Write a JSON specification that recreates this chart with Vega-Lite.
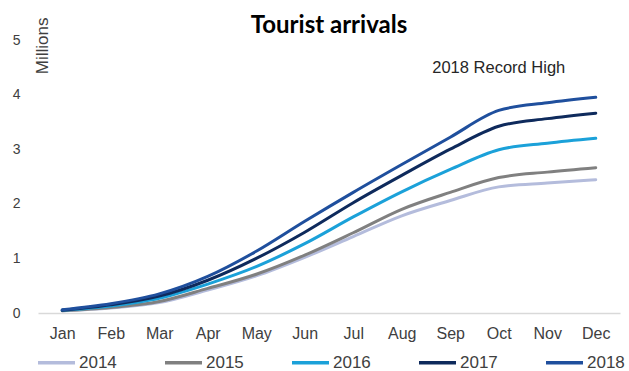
{
  "$schema": "https://vega.github.io/schema/vega-lite/v6.json",
  "width": 582,
  "height": 273,
  "autosize": {"type": "none"},
  "padding": {"left": 38, "top": 40, "right": 9, "bottom": 58},
  "background": "white",
  "config": {"view": {"stroke": null}, "font": "Liberation Sans"},
  "title": {"text": "Tourist arrivals", "font": "Lato", "fontSize": 24, "fontWeight": "bold", "color": "#000000", "anchor": "middle", "frame": "group", "baseline": "alphabetic", "offset": 5, "dy": 45},
  "datasets": {
    "arrivals": [
      {"month": "Jan", "year": "2014", "value": 0.04}, {"month": "Feb", "year": "2014", "value": 0.09}, {"month": "Mar", "year": "2014", "value": 0.19}, {"month": "Apr", "year": "2014", "value": 0.42}, {"month": "May", "year": "2014", "value": 0.68}, {"month": "Jun", "year": "2014", "value": 1.02}, {"month": "Jul", "year": "2014", "value": 1.4}, {"month": "Aug", "year": "2014", "value": 1.78}, {"month": "Sep", "year": "2014", "value": 2.06}, {"month": "Oct", "year": "2014", "value": 2.31}, {"month": "Nov", "year": "2014", "value": 2.38}, {"month": "Dec", "year": "2014", "value": 2.44},
      {"month": "Jan", "year": "2015", "value": 0.04}, {"month": "Feb", "year": "2015", "value": 0.1}, {"month": "Mar", "year": "2015", "value": 0.21}, {"month": "Apr", "year": "2015", "value": 0.45}, {"month": "May", "year": "2015", "value": 0.71}, {"month": "Jun", "year": "2015", "value": 1.06}, {"month": "Jul", "year": "2015", "value": 1.47}, {"month": "Aug", "year": "2015", "value": 1.9}, {"month": "Sep", "year": "2015", "value": 2.21}, {"month": "Oct", "year": "2015", "value": 2.48}, {"month": "Nov", "year": "2015", "value": 2.58}, {"month": "Dec", "year": "2015", "value": 2.66},
      {"month": "Jan", "year": "2016", "value": 0.05}, {"month": "Feb", "year": "2016", "value": 0.13}, {"month": "Mar", "year": "2016", "value": 0.27}, {"month": "Apr", "year": "2016", "value": 0.53}, {"month": "May", "year": "2016", "value": 0.85}, {"month": "Jun", "year": "2016", "value": 1.27}, {"month": "Jul", "year": "2016", "value": 1.76}, {"month": "Aug", "year": "2016", "value": 2.22}, {"month": "Sep", "year": "2016", "value": 2.63}, {"month": "Oct", "year": "2016", "value": 2.99}, {"month": "Nov", "year": "2016", "value": 3.11}, {"month": "Dec", "year": "2016", "value": 3.2},
      {"month": "Jan", "year": "2017", "value": 0.05}, {"month": "Feb", "year": "2017", "value": 0.15}, {"month": "Mar", "year": "2017", "value": 0.31}, {"month": "Apr", "year": "2017", "value": 0.6}, {"month": "May", "year": "2017", "value": 1.0}, {"month": "Jun", "year": "2017", "value": 1.48}, {"month": "Jul", "year": "2017", "value": 2.02}, {"month": "Aug", "year": "2017", "value": 2.52}, {"month": "Sep", "year": "2017", "value": 3.0}, {"month": "Oct", "year": "2017", "value": 3.42}, {"month": "Nov", "year": "2017", "value": 3.56}, {"month": "Dec", "year": "2017", "value": 3.66},
      {"month": "Jan", "year": "2018", "value": 0.06}, {"month": "Feb", "year": "2018", "value": 0.17}, {"month": "Mar", "year": "2018", "value": 0.35}, {"month": "Apr", "year": "2018", "value": 0.67}, {"month": "May", "year": "2018", "value": 1.13}, {"month": "Jun", "year": "2018", "value": 1.68}, {"month": "Jul", "year": "2018", "value": 2.21}, {"month": "Aug", "year": "2018", "value": 2.72}, {"month": "Sep", "year": "2018", "value": 3.22}, {"month": "Oct", "year": "2018", "value": 3.71}, {"month": "Nov", "year": "2018", "value": 3.85}, {"month": "Dec", "year": "2018", "value": 3.95}
    ]
  },
  "layer": [
    {
      "data": {"name": "arrivals"},
      "mark": {"type": "line", "strokeWidth": 3, "interpolate": "monotone", "strokeCap": "round"},
      "encoding": {
        "x": {"field": "month", "type": "ordinal", "sort": null,
          "scale": {"type": "point", "padding": 0.5},
          "axis": {"title": null, "labelAngle": 0, "ticks": false, "domainColor": "#d9d9d9", "domainWidth": 1.5, "labelFontSize": 16, "labelColor": "#404040", "labelPadding": 12, "grid": false}},
        "y": {"field": "value", "type": "quantitative",
          "scale": {"domain": [0, 5], "nice": false},
          "axis": {"title": "Millions", "titleFontSize": 17, "titleFontWeight": "normal", "titleColor": "#404040", "titleAngle": -90, "titleAlign": "right", "titleBaseline": "alphabetic", "titleX": 9, "titleY": -23, "values": [0, 1, 2, 3, 4, 5], "domain": false, "ticks": false, "grid": false, "labelFontSize": 14, "labelColor": "#404040", "labelPadding": 18}},
        "color": {"field": "year", "type": "nominal",
          "scale": {"domain": ["2014", "2015", "2016", "2017", "2018"], "range": ["#b4bcdc", "#808080", "#1ba1d9", "#0e2a5c", "#1f4f9d"]},
          "legend": {"title": null, "orient": "none", "legendX": -2, "legendY": 302, "direction": "horizontal", "symbolType": "stroke", "symbolSize": 1369, "symbolStrokeWidth": 3.5, "labelFontSize": 17, "labelColor": "#404040", "labelOffset": 2, "columnPadding": 41}}
      }
    },
    {
      "data": {"values": [{"label": "2018 Record High"}]},
      "mark": {"type": "text", "fontSize": 16.5, "color": "#262626", "align": "center", "baseline": "middle"},
      "encoding": {"text": {"field": "label"}, "x": {"datum": "Oct"}, "y": {"datum": 4.49}}
    }
  ]
}
